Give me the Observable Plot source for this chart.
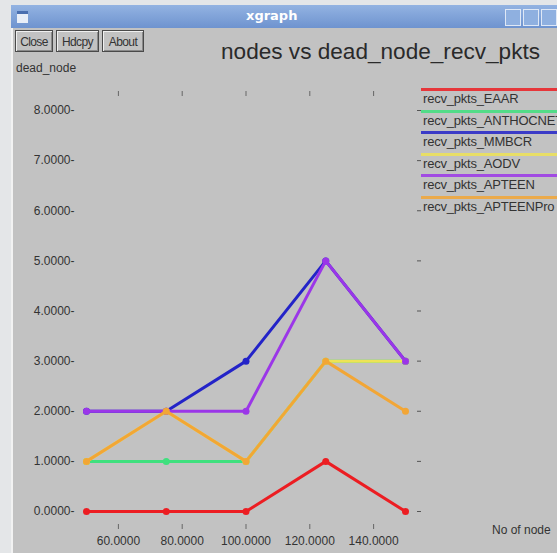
<!DOCTYPE html>
<html>
<head>
<meta charset="utf-8">
<script src="https://cdn.jsdelivr.net/npm/d3@7"></script>
<script src="https://cdn.jsdelivr.net/npm/@observablehq/plot@0.6"></script>
<style>
  html, body { margin: 0; padding: 0; }
  body { width: 557px; height: 553px; overflow: hidden; position: relative; background: #e4e6e8; font-family: "Liberation Sans", Arial, sans-serif; }
  #win { position: absolute; left: 11px; top: 5px; width: 600px; height: 600px; background: #c2c2c2; border-left: 2px solid #f2f2f2; box-sizing: border-box; }
  #titlebar { position: absolute; left: 11px; top: 5px; width: 600px; height: 23px; background: linear-gradient(#93b3e2, #6e93cf); }
  #titlebar .name { position: absolute; left: 235px; top: 3px; color: #fff; font-size: 13px; font-weight: bold; font-family: "DejaVu Sans", sans-serif; }
  #icon { position: absolute; left: 17px; top: 11px; width: 11px; height: 9px; background: #e8eef8; border-top: 3px solid #4a6fb0; }
  .wbtn { position: absolute; top: 9px; width: 14px; height: 15px; background: #8fb0e0; border: 1px solid #dfe8f6; }
  .btn { position: absolute; top: 30px; height: 22px; border: 1px solid #4a4a4a; box-shadow: inset 1px 1px #f0f0f0, inset -1px -1px #8a8a8a; font-size: 12px; line-height: 22px; text-align: center; color: #333; letter-spacing: -0.6px; box-sizing: border-box; }
  .lbl { position: absolute; font-size: 12px; color: #333; white-space: nowrap; }
  #title { position: absolute; left: 221px; top: 41px; font-size: 22.6px; line-height: 22px; color: #2a2a2a; white-space: nowrap; }
  #legend { position: absolute; left: 421px; top: 88px; }
  .leg { position: relative; height: 21.5px; }
  .leg .ln { position: absolute; left: 0; top: 0; width: 200px; height: 3px; opacity: 0.85; }
  .leg .tx { position: absolute; left: 2px; top: 3px; font-size: 13px; color: #333; white-space: nowrap; letter-spacing: -0.2px; }
  svg { position: absolute; left: 0; top: 0; }
</style>
</head>
<body>
<div id="win"></div>
<div id="titlebar"><span class="name">xgraph</span></div>
<div id="icon"></div>
<div class="wbtn" style="left:505px"></div>
<div class="wbtn" style="left:523px"></div>
<div class="wbtn" style="left:541px"></div>
<div class="btn" style="left:15px;width:38px">Close</div>
<div class="btn" style="left:56px;width:43px">Hdcpy</div>
<div class="btn" style="left:102px;width:42px">About</div>
<div id="title">nodes vs dead_node_recv_pkts</div>
<div class="lbl" style="left:16px;top:61px">dead_node</div>
<div class="lbl" style="left:492px;top:523px">No of node</div>
<div id="legend"></div>
<script>
// ---- data ----
const nodes = [50, 75, 100, 125, 150];
const seriesNames = ["recv_pkts_EAAR", "recv_pkts_ANTHOCNET", "recv_pkts_MMBCR", "recv_pkts_AODV", "recv_pkts_APTEEN", "recv_pkts_APTEENPro"];
const eaar      = [0, 0, 0, 1, 0];
const anthocnet = [1, 1, 1, 3, 3];
const mmbcr     = [2, 2, 3, 5, 3];
const aodv      = [1, 2, 1, 3, 3];
const apteen    = [2, 2, 2, 5, 3];
const apteenPro = [1, 2, 1, 3, 2];
const xTicks = [60, 80, 100, 120, 140];
const yTicks = [0, 1, 2, 3, 4, 5, 6, 7, 8];
const seriesColors = ["#ec1d22", "#3fe07e", "#2323c8", "#eee356", "#9b36e8", "#f2a636"];

const values = [eaar, anthocnet, mmbcr, aodv, apteen, apteenPro];
const rows = seriesNames.flatMap((s, i) => nodes.map((n, j) => ({series: s, node: n, value: values[i][j]})));

// legend (HTML)
const legend = document.getElementById("legend");
seriesNames.forEach((s, i) => {
  const d = document.createElement("div");
  d.className = "leg";
  d.innerHTML = `<div class="ln" style="background:${seriesColors[i]}"></div><div class="tx">${s}</div>`;
  legend.appendChild(d);
});

const perSeries = seriesNames.flatMap(s => {
  const data = rows.filter(r => r.series === s);
  return [
    Plot.line(data, {x: "node", y: "value", stroke: "series", strokeWidth: 3}),
    Plot.dot(data, {x: "node", y: "value", fill: "series", r: 3.5})
  ];
});

const chart = Plot.plot({
  width: 557,
  height: 553,
  marginLeft: 86,
  marginRight: 152,
  marginTop: 110,
  marginBottom: 42,
  style: {background: "transparent", fontSize: "12px", fontFamily: "Liberation Sans, Arial, sans-serif", color: "#333", overflow: "visible"},
  x: {domain: [50, 150], axis: null},
  y: {domain: [0, 8], axis: null},
  color: {domain: seriesNames, range: seriesColors},
  marks: [
    Plot.axisY({anchor: "left", ticks: yTicks, tickFormat: d => d.toFixed(4) + "-", tickSize: 0, tickPadding: 12, label: null, fill: "#333"}),
    Plot.axisY({anchor: "right", ticks: yTicks, tickFormat: () => "", tickSize: 4, dx: 11, label: null, stroke: "#555"}),
    Plot.axisX({anchor: "top", ticks: xTicks, tickFormat: () => "", tickSize: 5, dy: -15, label: null, stroke: "#666"}),
    Plot.axisX({anchor: "bottom", ticks: xTicks, tickFormat: d => d.toFixed(4), tickSize: 5, dy: 13, tickPadding: 7, label: null, stroke: "#666", fill: "#333"}),
    ...perSeries
  ]
});
document.body.appendChild(chart);
</script>
</body>
</html>
